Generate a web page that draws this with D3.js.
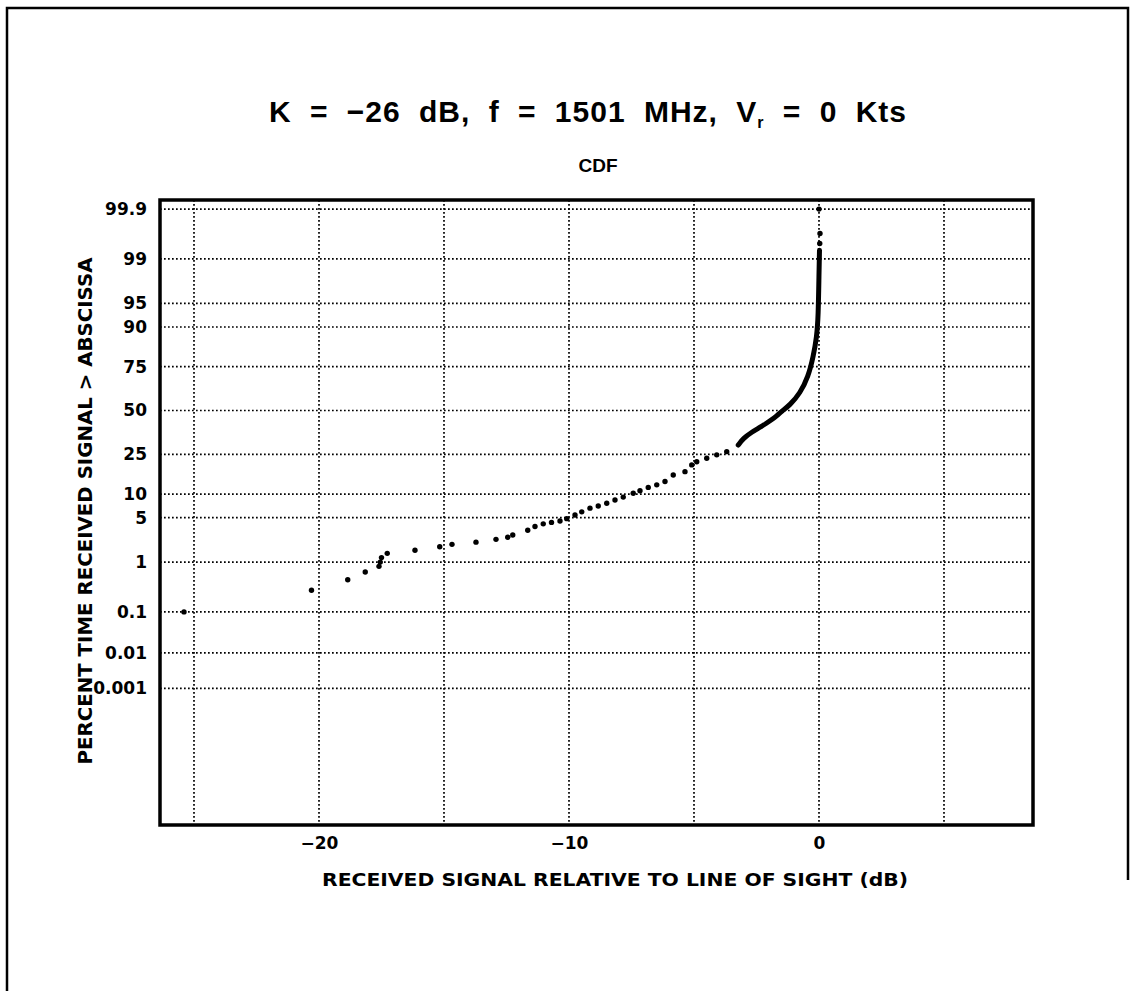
<!DOCTYPE html>
<html>
<head>
<meta charset="utf-8">
<script src="https://cdn.jsdelivr.net/npm/d3@7"></script>
<style>
  body { margin: 0; background: #fff; }
  svg { display: block; font-family: "DejaVu Sans", "Liberation Sans", sans-serif; }
</style>
</head>
<body>
<script>
// Datos (nivel en dB, porcentaje de tiempo)
const dotLevels = [-25.4, -20.3, -18.85, -18.15, -17.6, -17.55, -17.5, -17.27, -16.16, -15.17,
    -14.68, -13.72, -12.92, -12.45, -12.25, -11.65, -11.36, -11.03, -10.7, -10.36,
    -10.09, -9.76, -9.49, -9.16, -8.83, -8.49, -8.16, -7.83, -7.43, -7.16,
    -6.83, -6.49, -6.16, -5.83, -5.36, -5.09, -4.89, -4.49, -4.09, -3.69,
    0.03, 0.04, 0.0];
const dotPercents = [0.1, 0.29, 0.47, 0.66, 0.84, 1.0, 1.2, 1.42, 1.6, 1.83,
    2.0, 2.17, 2.4, 2.59, 2.8, 3.3, 3.75, 4.1, 4.3, 4.5,
    4.85, 5.45, 6.0, 6.7, 7.15, 7.75, 8.5, 9.2, 10.2, 10.9,
    11.9, 12.7, 13.8, 16.1, 17.4, 20.2, 21.6, 23.2, 24.8, 26.4,
    99.48, 99.67, 99.9];
// tramo denso que se ve como línea continua
const lineLevels = [-3.23, -3.03, -2.68, -2.36, -2.12, -1.88, -1.68, -1.5, -1.16, -0.76, -0.43, -0.23, -0.09, -0.03, 0.0, 0.02];
const linePercents = [29.8, 33.5, 37.1, 39.8, 42.1, 44.5, 46.9, 49.4, 53.4, 60.4, 69.8, 79.5, 87.1, 92.5, 98.25, 99.3];

const yTicks = [99.9, 99, 95, 90, 75, 50, 25, 10, 5, 1, 0.1, 0.01, 0.001];
const yTickLabels = ["99.9", "99", "95", "90", "75", "50", "25", "10", "5", "1", "0.1", "0.01", "0.001"];
const xGrid = [-25, -20, -15, -10, -5, 0, 5];
const xTicks = [-20, -10, 0];
const xTickLabels = ["\u221220", "\u221210", "0"];

// Cuantil de la normal (Acklam) para la escala de probabilidad
function probit(p) {
    const a = [-3.969683028665376e+01, 2.209460984245205e+02, -2.759285104469687e+02, 1.383577518672690e+02, -3.066479806614716e+01, 2.506628277459239e+00];
    const b = [-5.447609879822406e+01, 1.615858368580409e+02, -1.556989798598866e+02, 6.680131188771972e+01, -1.328068155288572e+01];
    const c = [-7.784894002430293e-03, -3.223964580411365e-01, -2.400758277161838e+00, -2.549732539343734e+00, 4.374664141464968e+00, 2.938163982698783e+00];
    const d = [7.784695709041462e-03, 3.224671290700398e-01, 2.445134137142996e+00, 3.754408661907416e+00];
    const pl = 0.02425;
    let q, r;
    if (p < pl) {
        q = Math.sqrt(-2 * Math.log(p));
        return (((((c[0]*q+c[1])*q+c[2])*q+c[3])*q+c[4])*q+c[5]) / ((((d[0]*q+d[1])*q+d[2])*q+d[3])*q+1);
    }
    if (p <= 1 - pl) {
        q = p - 0.5; r = q * q;
        return (((((a[0]*r+a[1])*r+a[2])*r+a[3])*r+a[4])*r+a[5])*q / (((((b[0]*r+b[1])*r+b[2])*r+b[3])*r+b[4])*r+1);
    }
    q = Math.sqrt(-2 * Math.log(1 - p));
    return -(((((c[0]*q+c[1])*q+c[2])*q+c[3])*q+c[4])*q+c[5]) / ((((d[0]*q+d[1])*q+d[2])*q+d[3])*q+1);
}
const z = pct => probit(pct / 100);

var W = 1136, H = 991;
var margin = {top: 200, left: 160};
var width = 873, height = 625;

var svg = d3.select("body").append("svg")
    .attr("width", W)
    .attr("height", H);

svg.append("rect").attr("width", W).attr("height", H).attr("fill", "#fff");

// Marco de la página
svg.append("path")
    .attr("d", "M7,991 V8 H1128 V880")
    .attr("fill", "none")
    .attr("stroke", "#000")
    .attr("stroke-width", 2.5);

// Títulos
var title = svg.append("text")
    .attr("x", 588)
    .attr("y", 122)
    .attr("text-anchor", "middle")
    .style("font-family", "Liberation Sans, sans-serif")
    .style("font-size", "30px")
    .style("font-weight", "bold")
    .style("letter-spacing", "1px")
    .style("word-spacing", "9px");
title.append("tspan").text("K = \u221226 dB, f = 1501 MHz, V");
title.append("tspan").attr("dy", 6).style("font-size", "16px").text("r");
title.append("tspan").attr("dy", -6).text(" = 0 Kts");

svg.append("text")
    .attr("x", 598)
    .attr("y", 172)
    .attr("text-anchor", "middle")
    .style("font-family", "Liberation Sans, sans-serif")
    .style("font-size", "19px")
    .style("font-weight", "bold")
    .text("CDF");

var g = svg.append("g")
    .attr("transform", `translate(${margin.left}, ${margin.top})`);

const x = d3.scaleLinear().domain([-26.36, 8.56]).range([0, width]);
const y = d3.scaleLinear().domain([-6.36, 3.23]).range([height, 0]);

// Rejilla punteada
g.selectAll("line.hgrid")
    .data(yTicks)
    .enter()
    .append("line")
    .attr("class", "hgrid")
    .attr("x1", 0).attr("x2", width)
    .attr("y1", d => y(z(d))).attr("y2", d => y(z(d)))
    .attr("stroke", "#000")
    .attr("stroke-width", 1.7)
    .attr("stroke-dasharray", "1.7,2.3");

g.selectAll("line.vgrid")
    .data(xGrid)
    .enter()
    .append("line")
    .attr("class", "vgrid")
    .attr("x1", d => x(d)).attr("x2", d => x(d))
    .attr("y1", 0).attr("y2", height)
    .attr("stroke", "#000")
    .attr("stroke-width", 1.7)
    .attr("stroke-dasharray", "1.7,2.3");

// Ejes
var yAxis = d3.axisLeft(y)
    .tickValues(yTicks.map(z))
    .tickSize(0)
    .tickPadding(13)
    .tickFormat((d, i) => yTickLabels[i]);
var gy = g.append("g").call(yAxis);
gy.select(".domain").remove();
gy.selectAll("text")
    .style("font-size", "17px")
    .style("font-weight", "bold")
    .style("font-family", "DejaVu Sans, sans-serif")
    .attr("fill", "#000");

var xAxis = d3.axisBottom(x)
    .tickValues(xTicks)
    .tickSize(0)
    .tickPadding(12)
    .tickFormat((d, i) => xTickLabels[i]);
var gx = g.append("g").attr("transform", `translate(0, ${height})`).call(xAxis);
gx.select(".domain").remove();
gx.selectAll("text")
    .style("font-size", "17px")
    .style("font-weight", "bold")
    .style("font-family", "DejaVu Sans, sans-serif")
    .attr("fill", "#000");

// Datos: puntos y tramo continuo
const dots = dotLevels.map((d, i) => ({level: d, pct: dotPercents[i]}));
const solid = lineLevels.map((d, i) => ({level: d, pct: linePercents[i]}));

g.append("path")
    .datum(solid)
    .attr("fill", "none")
    .attr("stroke", "#000")
    .attr("stroke-width", 5)
    .attr("stroke-linecap", "round")
    .attr("stroke-linejoin", "round")
    .attr("d", d3.line().x(d => x(d.level)).y(d => y(z(d.pct))).curve(d3.curveBasis));

g.selectAll("circle.pt")
    .data(dots)
    .enter()
    .append("circle")
    .attr("class", "pt")
    .attr("cx", d => x(d.level))
    .attr("cy", d => y(z(d.pct)))
    .attr("r", 2.7)
    .attr("fill", "#000");

// Marco del gráfico
g.append("rect")
    .attr("width", width)
    .attr("height", height)
    .attr("fill", "none")
    .attr("stroke", "#000")
    .attr("stroke-width", 3.5);

// Etiquetas de ejes
svg.append("text")
    .attr("x", 615)
    .attr("y", 886)
    .attr("text-anchor", "middle")
    .attr("textLength", 586)
    .attr("lengthAdjust", "spacingAndGlyphs")
    .style("font-size", "18px")
    .style("font-weight", "bold")
    .text("RECEIVED SIGNAL RELATIVE TO LINE OF SIGHT (dB)");

svg.append("text")
    .attr("transform", "rotate(-90)")
    .attr("x", -511)
    .attr("y", 92)
    .attr("text-anchor", "middle")
    .style("font-size", "19px")
    .style("font-weight", "bold")
    .attr("textLength", 507)
    .attr("lengthAdjust", "spacingAndGlyphs")
    .text("PERCENT TIME RECEIVED SIGNAL > ABSCISSA");
</script>
</body>
</html>
